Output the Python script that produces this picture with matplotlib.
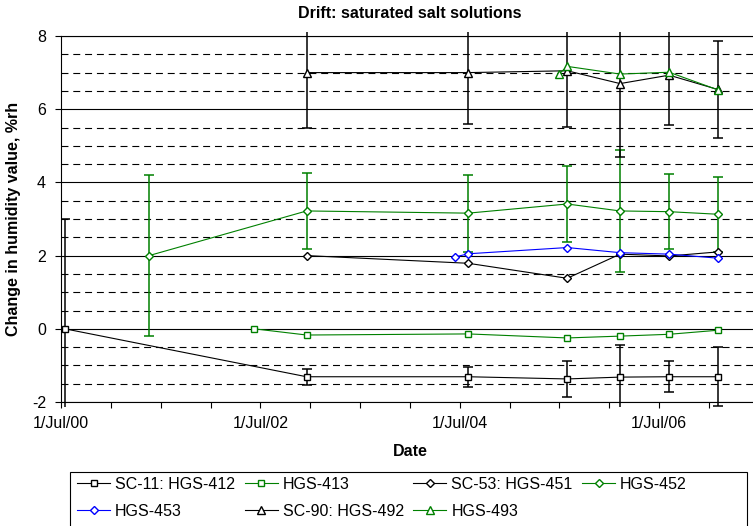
import numpy as np
import pandas as pd
import matplotlib
matplotlib.use('agg')
import matplotlib.pyplot as plt
import matplotlib.dates as mdates
from matplotlib.patches import Rectangle
from matplotlib.transforms import Bbox, TransformedBbox

plt.rcParams['font.family'] = ['Liberation Sans', 'DejaVu Sans']
plt.rcParams['lines.scale_dashes'] = False
plt.rcParams['axes.unicode_minus'] = False

# Daten
sc11_dates = ["2000-07-14", "2002-12-18", "2004-08-02", "2005-07-31", "2006-02-10", "2006-08-09", "2007-02-03"]
sc11_vals = [0.0, -1.31, -1.31, -1.37, -1.32, -1.31, -1.31]
sc11_err = [3.0, 0.22, 0.27, 0.48, 0.87, 0.43, 0.80]

hgs413_dates = ["2002-06-08", "2002-12-18", "2004-08-02", "2005-07-31", "2006-02-10", "2006-08-09", "2007-02-03"]
hgs413_vals = [0.0, -0.17, -0.14, -0.25, -0.20, -0.15, -0.04]

sc53_dates = ["2002-12-18", "2004-08-02", "2005-07-31", "2006-02-10", "2006-08-09", "2007-02-03"]
sc53_vals = [2.0, 1.79, 1.38, 2.04, 1.99, 2.10]

hgs452_dates = ["2001-05-19", "2002-12-18", "2004-08-02", "2005-07-31", "2006-02-10", "2006-08-09", "2007-02-03"]
hgs452_vals = [2.0, 3.22, 3.16, 3.41, 3.22, 3.20, 3.13]
hgs452_err = [2.2, 1.03, 1.05, 1.05, 1.66, 1.03, 1.03]

hgs453_dates = ["2004-06-13", "2004-08-02", "2005-07-31", "2006-02-10", "2006-08-09", "2007-02-03"]
hgs453_vals = [1.96, 2.05, 2.22, 2.08, 2.04, 1.93]

sc90_dates = ["2002-12-18", "2004-08-02", "2005-07-31", "2006-02-10", "2006-08-09", "2007-02-03"]
sc90_vals = [7.0, 7.0, 7.05, 6.70, 6.93, 6.54]
sc90_err = [1.5, 1.4, 1.54, 2.0, 1.35, 1.33]

hgs493_dates = ["2005-07-02", "2005-07-31", "2006-02-10", "2006-08-09", "2007-02-03"]
hgs493_vals = [6.97, 7.17, 6.96, 7.01, 6.53]

y_major = [-2, 0, 2, 4, 6, 8]
y_dashed = [-1.5, -1, -0.5, 0.5, 1, 1.5, 2.5, 3, 3.5, 4.5, 5, 5.5, 6.5, 7, 7.5]

W, H = 753, 526
fig = plt.figure(figsize=(W / 100, H / 100), dpi=100)
ax = fig.add_axes([61.3 / W, (H - 402) / H, (758 - 61.3) / W, 366 / H])

# Gitterlinien
for y in y_major:
    ax.axhline(y, color='black', lw=0.8, zorder=0)
for y in y_dashed:
    ax.axhline(y, color='black', lw=0.8, dashes=(5, 3.5), zorder=0)

clipbox = TransformedBbox(Bbox([[0, -0.014], [1, 1.012]]), ax.transAxes)

series = [
    ("SC-11: HGS-412", sc11_dates, sc11_vals, sc11_err, 'black', 's'),
    ("HGS-413", hgs413_dates, hgs413_vals, None, 'green', 's'),
    ("SC-53: HGS-451", sc53_dates, sc53_vals, None, 'black', 'D'),
    ("HGS-452", hgs452_dates, hgs452_vals, hgs452_err, 'green', 'D'),
    ("HGS-453", hgs453_dates, hgs453_vals, None, 'blue', 'D'),
    ("SC-90: HGS-492", sc90_dates, sc90_vals, sc90_err, 'black', '^'),
    ("HGS-493", hgs493_dates, hgs493_vals, None, 'green', '^'),
]

handles = {}
for label, d, v, e, col, mk in series:
    x = pd.to_datetime(d)
    ms = {'s': 5, 'D': 4.2, '^': 6}[mk]
    if e is not None:
        cont = ax.errorbar(x, v, yerr=e, fmt='none', ecolor=col, elinewidth=1.1,
                           capsize=3.5, capthick=1.1, zorder=2)
        for art in list(cont.lines[1]) + list(cont.lines[2]):
            art.set_clip_box(clipbox)
    ln, = ax.plot(x, v, color=col, lw=0.8, marker=mk, ms=ms, mfc='white',
                  mec=col, mew=1.0, label=label, zorder=3)
    handles[label] = ln

ax.set_xlim(pd.Timestamp("2000-07-01"), pd.Timestamp("2007-07-01"))
ax.set_ylim(-2, 8)
ax.set_yticks(y_major)
ax.xaxis.set_major_locator(mdates.YearLocator(2, month=7, day=1))
ax.xaxis.set_major_formatter(mdates.DateFormatter('1/%b/%y'))
ax.xaxis.set_minor_locator(mdates.MonthLocator(bymonth=[1, 7]))
ax.tick_params(axis='both', which='both', direction='out', length=4, width=0.8,
               labelsize=11.5, colors='black')
ax.tick_params(axis='y', pad=7)
ax.tick_params(axis='x', pad=6)
for s in ax.spines.values():
    s.set_linewidth(0.8)

fig.text(410 / W, 1 - 13 / H, "Drift: saturated salt solutions", ha='center',
         va='center', fontsize=11.5, fontweight='bold')
fig.text(410 / W, 1 - 451 / H, "Date", ha='center', va='center',
         fontsize=11.5, fontweight='bold')
fig.text(14 / W, 1 - 219 / H, "Change in humidity value, %rh", ha='center',
         va='center', rotation=90, fontsize=11.5, fontweight='bold')

# Legende (zeilenweise wie im Original)
order = ["SC-11: HGS-412", "HGS-453", "HGS-413", "SC-90: HGS-492",
         "SC-53: HGS-451", "HGS-493", "HGS-452"]
fig.legend([handles[k] for k in order], order, loc='upper left',
           bbox_to_anchor=(77 / W, 1 - 477 / H), ncol=4, frameon=False,
           fontsize=11.5, borderpad=0, borderaxespad=0, handlelength=2.07,
           handletextpad=0.31, columnspacing=0.6, labelspacing=0.74)
fig.add_artist(Rectangle((70 / W, -0.1), 677 / W, 0.1 + (H - 471.7) / H,
                         transform=fig.transFigure, fill=False,
                         edgecolor='black', lw=0.8))

fig.savefig("out.png", dpi=100)
plt.close(fig)
